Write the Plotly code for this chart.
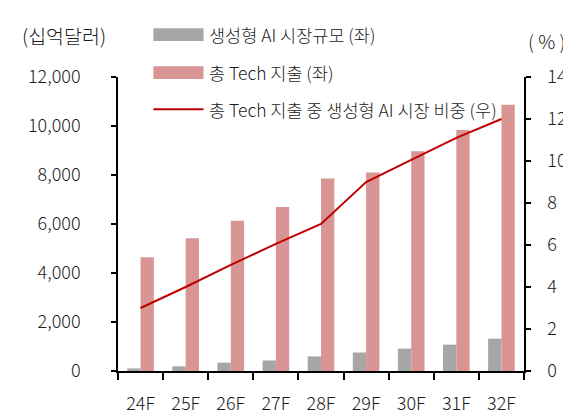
import plotly.graph_objects as go

years = ["24F", "25F", "26F", "27F", "28F", "29F", "30F", "31F", "32F"]
genai_market = [105, 190, 340, 430, 595, 755, 915, 1075, 1320]
tech_spend = [4640, 5420, 6130, 6690, 7860, 8100, 8970, 9840, 10870]
genai_share = [3.0, 4.0, 5.05, 6.05, 7.0, 9.0, 10.05, 11.1, 12.0]
names = ["생성형 AI 시장규모 (좌)", "총 Tech 지출 (좌)", "총 Tech 지출 중 생성형 AI 시장 비중 (우)"]

GRAY = "#A6A6A6"
PINK = "#D99594"
RED = "#C00000"
FONT = "Noto Sans CJK KR"
TXT = "#1a1a1a"

W, H = 571, 419
L, R, T, B = 110, 523, 69, 371


def px(x):
    return (x - L) / (R - L)


def py(y):
    return (B - y) / (B - T)


fig = go.Figure()
fig.add_trace(go.Bar(x=years, y=genai_market, name=names[0], marker_color=GRAY,
                     marker_line_width=0, showlegend=False))
fig.add_trace(go.Bar(x=years, y=tech_spend, name=names[1], marker_color=PINK,
                     marker_line_width=0, showlegend=False))
fig.add_trace(go.Scatter(x=years, y=genai_share, name=names[2], mode="lines",
                         line=dict(color=RED, width=2), yaxis="y2", showlegend=False))

# hand made legend (wide swatches like the original)
shapes = [
    dict(type="rect", xref="paper", yref="paper", x0=px(146), x1=px(197),
         y0=py(32), y1=py(19), fillcolor=GRAY, line_width=0),
    dict(type="rect", xref="paper", yref="paper", x0=px(146), x1=px(197),
         y0=py(71), y1=py(58), fillcolor=PINK, line_width=0),
    dict(type="line", xref="paper", yref="paper", x0=px(146), x1=px(197),
         y0=py(102), y1=py(102), line=dict(color=RED, width=2)),
]
annotations = []
for txt, yy in zip(names, [25, 64, 102]):
    annotations.append(dict(text=txt, xref="paper", yref="paper", x=px(201), y=py(yy),
                            xanchor="left", yanchor="middle", showarrow=False,
                            font=dict(family=FONT, size=17.5, color=TXT, weight=300)))
annotations.append(dict(text="(십억달러)", xref="paper", yref="paper", x=px(55), y=py(26),
                        xanchor="center", yanchor="middle", showarrow=False,
                        font=dict(family=FONT, size=19.5, color=TXT, weight=300)))
annotations.append(dict(text="( % )", xref="paper", yref="paper", x=px(546), y=py(31),
                        xanchor="center", yanchor="middle", showarrow=False,
                        font=dict(family=FONT, size=19, color=TXT, weight=300)))

axis_common = dict(showgrid=False, zeroline=False, showline=True, linecolor="black",
                   linewidth=1.5, ticks="outside", tickcolor="black", tickwidth=1.5,
                   tickfont=dict(family=FONT, size=18, color=TXT, weight=300))

fig.update_layout(
    width=W, height=H,
    margin=dict(l=L, r=W - R, t=T, b=H - B),
    paper_bgcolor="white", plot_bgcolor="white",
    barmode="group", bargap=0.41, bargroupgap=0,
    shapes=shapes, annotations=annotations,
    xaxis=dict(**axis_common, ticklen=7, tickson="boundaries", ticklabelstandoff=16),
    yaxis=dict(**axis_common, range=[0, 12000], tickvals=[0, 2000, 4000, 6000, 8000, 10000, 12000],
               tickformat=",d", ticklen=5, ticklabelstandoff=27),
    yaxis2=dict(**axis_common, range=[0, 14], tickvals=[0, 2, 4, 6, 8, 10, 12, 14],
                overlaying="y", side="right", ticklen=5, ticklabelstandoff=13),
)

fig.write_html("out.html")
